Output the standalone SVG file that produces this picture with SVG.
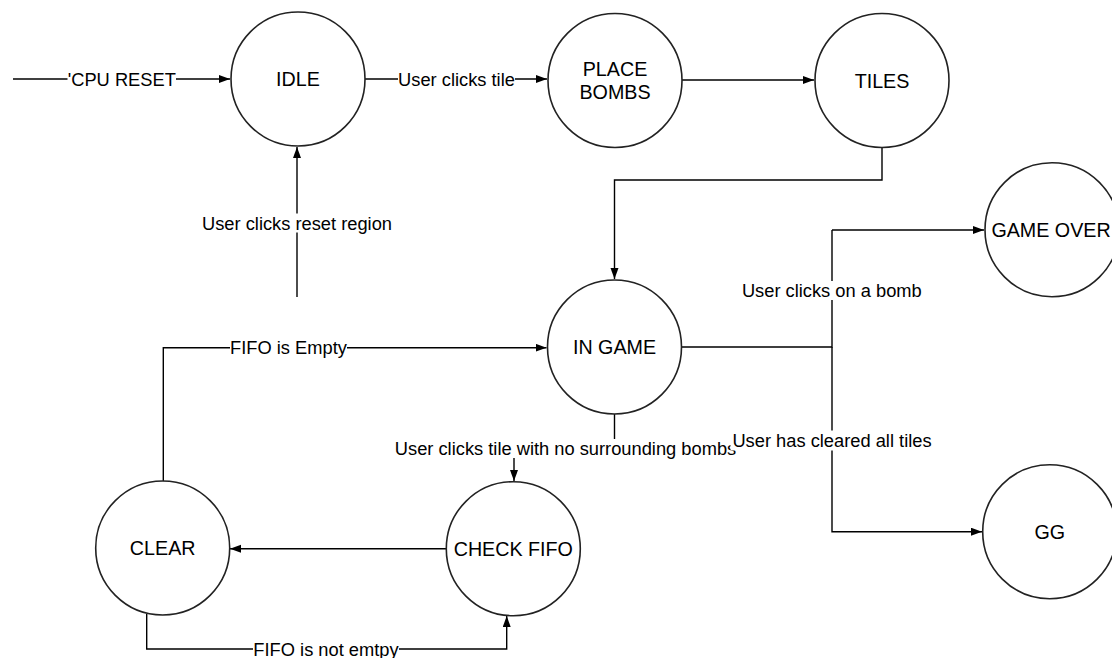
<svg xmlns="http://www.w3.org/2000/svg" width="1112" height="658" viewBox="0 0 1112 658">
<defs>
<marker id="arr" markerWidth="12" markerHeight="9" refX="11" refY="4" orient="auto" markerUnits="userSpaceOnUse">
<path d="M0,0 L11,4 L0,8 z" fill="#000"/>
</marker>
<style>
.node circle{fill:#fff;stroke:#222;stroke-width:1.6}
.node text{font-family:"Liberation Sans",Arial,sans-serif;font-size:19.7px;fill:#000;text-anchor:middle}
.edge{fill:none;stroke:#000;stroke-width:1.4}
.arrow{marker-end:url(#arr)}
.lbl rect{fill:#fff}
.lbl text{font-family:"Liberation Sans",Arial,sans-serif;font-size:18.3px;fill:#000;text-anchor:middle}
</style>
</defs>
<rect width="1112" height="658" fill="#fff"/>

<g id="connectors">
<path class="edge arrow" d="M13,79 L230,79"/>
<path class="edge arrow" d="M365,79 L547,79"/>
<path class="edge arrow" d="M682,80 L814,80"/>
<path class="edge arrow" d="M882,147 L882,180 L614.5,180 L614.5,279"/>
<path class="edge arrow" d="M297,297 L297,147"/>
<path class="edge arrow" d="M163.3,481 L163.3,347.7 L546.5,347.7"/>
<path class="edge" d="M681.5,347 L832,347 L832,230"/>
<path class="edge arrow" d="M832,230 L984,230"/>
<path class="edge arrow" d="M832,347 L832,531.7 L982,531.7"/>
<path class="edge arrow" d="M614.5,414 L614.5,448 L514,448 L514,481"/>
<path class="edge arrow" d="M446.7,548.7 L230,548.7"/>
<path class="edge arrow" d="M146.7,614 L146.7,649 L506.7,649 L506.7,616"/>

<g class="lbl"><rect x="67.5" y="70" width="108.5" height="19"/><text x="121.8" y="86">'CPU RESET</text></g>
<g class="lbl"><rect x="398" y="70" width="117" height="19"/><text x="456.5" y="86">User clicks tile</text></g>
<g class="lbl"><rect x="202" y="213.5" width="190.5" height="19"/><text x="297" y="230">User clicks reset region</text></g>
<g class="lbl"><rect x="230" y="338" width="117" height="19"/><text x="288.5" y="354.3">FIFO is Empty</text></g>
<g class="lbl"><rect x="394.5" y="439" width="342" height="19"/><text x="565.5" y="455">User clicks tile with no surrounding bombs</text></g>
<g class="lbl"><rect x="741.5" y="281" width="180.5" height="19"/><text x="831.8" y="296.5">User clicks on a bomb</text></g>
<g class="lbl"><rect x="730.5" y="430.5" width="201.5" height="20"/><text x="832" y="446.7">User has cleared all tiles</text></g>
<g class="lbl"><rect x="253" y="640" width="146" height="18"/><text x="326" y="655.5">FIFO is not emtpy</text></g>
</g>

<g id="idle" class="node"><circle cx="298" cy="79" r="67"/><text x="298" y="86">IDLE</text></g>
<g id="place-bombs" class="node"><circle cx="615" cy="80.5" r="67"/><text x="615" y="76">PLACE</text><text x="615" y="99">BOMBS</text></g>
<g id="tiles" class="node"><circle cx="882" cy="80.5" r="67"/><text x="882" y="87.5">TILES</text></g>
<g id="in-game" class="node"><circle cx="614.5" cy="347" r="67"/><text x="614.5" y="354">IN GAME</text></g>
<g id="game-over" class="node"><circle cx="1052" cy="229.7" r="67"/><text x="1051" y="236.7">GAME OVER</text></g>
<g id="gg" class="node"><circle cx="1049.7" cy="531.7" r="67"/><text x="1049.7" y="538.7">GG</text></g>
<g id="clear" class="node"><circle cx="162.7" cy="548" r="67"/><text x="162.7" y="555">CLEAR</text></g>
<g id="check-fifo" class="node"><circle cx="513.3" cy="548.7" r="67"/><text x="513.3" y="555.7">CHECK FIFO</text></g>
</svg>
